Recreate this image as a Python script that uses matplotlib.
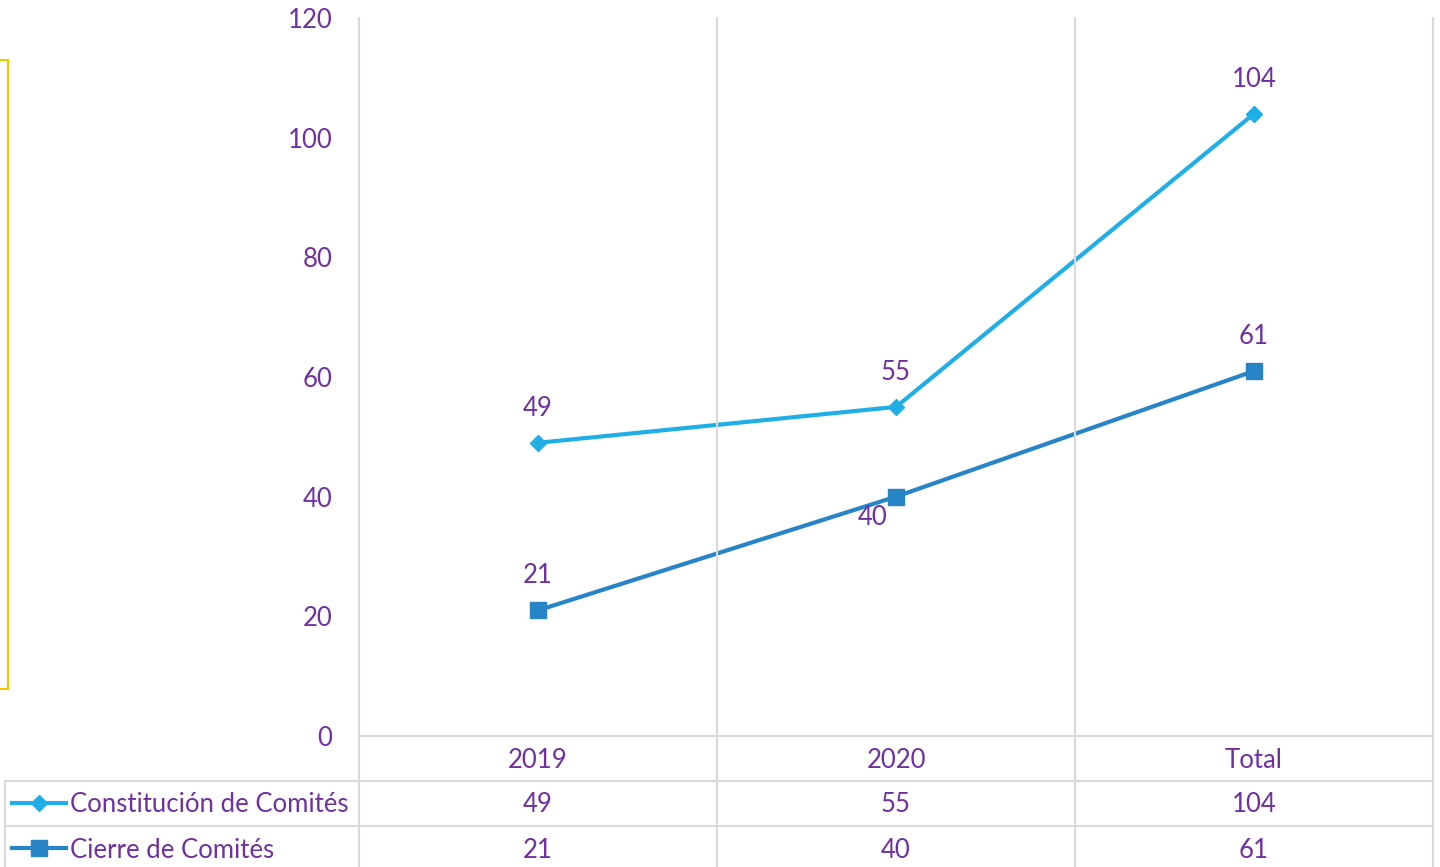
import matplotlib
matplotlib.use("Agg")
import matplotlib.pyplot as plt
from matplotlib.lines import Line2D
from matplotlib.patches import Rectangle
import matplotlib.transforms as mtransforms

categories = ["2019", "2020", "Total"]
constitucion = [49, 55, 104]
cierre = [21, 40, 61]
series_names = ["Constitución de Comités", "Cierre de Comités"]
yticks = [0, 20, 40, 60, 80, 100, 120]

W, H = 1440, 867
DPI = 100
PURPLE = "#7030A0"
C1 = "#1FAEE6"
C2 = "#2784C7"
GRID = "#D9D9D9"
plt.rcParams['font.family'] = ['Lato', 'DejaVu Sans']
FS = 18.5

fig = plt.figure(figsize=(W / DPI, H / DPI), dpi=DPI)
ax = fig.add_axes([359 / W, 1 - 736 / H, (1433 - 359) / W, (736 - 18) / H])
ax.set_xlim(-0.5, 2.5)
ax.set_ylim(0, 120)
for s in ax.spines.values():
    s.set_visible(False)
ax.set_xticks([])
ax.set_yticks(yticks)
ax.tick_params(axis='y', length=0, pad=19, labelsize=FS, labelcolor=PURPLE)

def fx(px):
    return px / W
def fy(py):
    return 1 - py / H

# vertical grid lines at category boundaries (through table)
for b in [-0.5, 0.5, 1.5, 2.5]:
    xf = fig.transFigure.inverted().transform(ax.transData.transform((b, 0)))[0]
    fig.add_artist(Line2D([xf, xf], [fy(18), 0], color=GRID, lw=1.5))
# x axis line
fig.add_artist(Line2D([fx(359), fx(1433)], [fy(736), fy(736)], color=GRID, lw=1.5))
# table horizontal lines
for py in [781, 826]:
    fig.add_artist(Line2D([fx(5), fx(1433)], [fy(py), fy(py)], color=GRID, lw=1.5))
fig.add_artist(Line2D([fx(5), fx(5)], [fy(781), 0], color=GRID, lw=1.5))

xs = list(range(len(categories)))
ax.plot(xs, constitucion, color=C1, lw=3, marker='D', markersize=8, zorder=3, clip_on=False)
ax.plot(xs, cierre, color=C2, lw=3, marker='s', markersize=11, zorder=3, clip_on=False)

for x, v in zip(xs, constitucion):
    ax.annotate(str(v), (x, v), xytext=(0, 25), textcoords='offset points',
                ha='center', va='center', fontsize=FS, color=PURPLE)
for x, v in zip(xs, cierre):
    if v == 40:
        ax.annotate(str(v), (x, v), xytext=(-17, -15), textcoords='offset points',
                    ha='center', va='center', fontsize=FS, color=PURPLE)
    else:
        ax.annotate(str(v), (x, v), xytext=(0, 25), textcoords='offset points',
                    ha='center', va='center', fontsize=FS, color=PURPLE)

# table texts
blend = mtransforms.blended_transform_factory(ax.transData, fig.transFigure)
for x, c in zip(xs, categories):
    fig.text(x, fy(760), c, transform=blend, ha='center', va='center', fontsize=FS, color=PURPLE)
for row_y, vals in [(805, constitucion), (850, cierre)]:
    for x, v in zip(xs, vals):
        fig.text(x, fy(row_y), str(v), transform=blend, ha='center', va='center', fontsize=FS, color=PURPLE)

# legend keys
fig.add_artist(Line2D([fx(12), fx(66)], [fy(803), fy(803)], color=C1, lw=3))
fig.add_artist(Line2D([fx(39)], [fy(803)], color=C1, marker='D', markersize=8, lw=0))
fig.add_artist(Line2D([fx(12), fx(66)], [fy(848), fy(848)], color=C2, lw=3))
fig.add_artist(Line2D([fx(39)], [fy(848)], color=C2, marker='s', markersize=11, lw=0))
fig.text(fx(70), fy(805), series_names[0], ha='left', va='center', fontsize=FS, color=PURPLE)
fig.text(fx(70), fy(850), series_names[1], ha='left', va='center', fontsize=FS, color=PURPLE)

# yellow frame fragment on the left
fig.add_artist(Rectangle((fx(-20), fy(689)), fx(28), fy(60) - fy(689), fill=False,
                         edgecolor="#FFC000", lw=1.5, transform=fig.transFigure))

fig.savefig("out.png", dpi=DPI)
